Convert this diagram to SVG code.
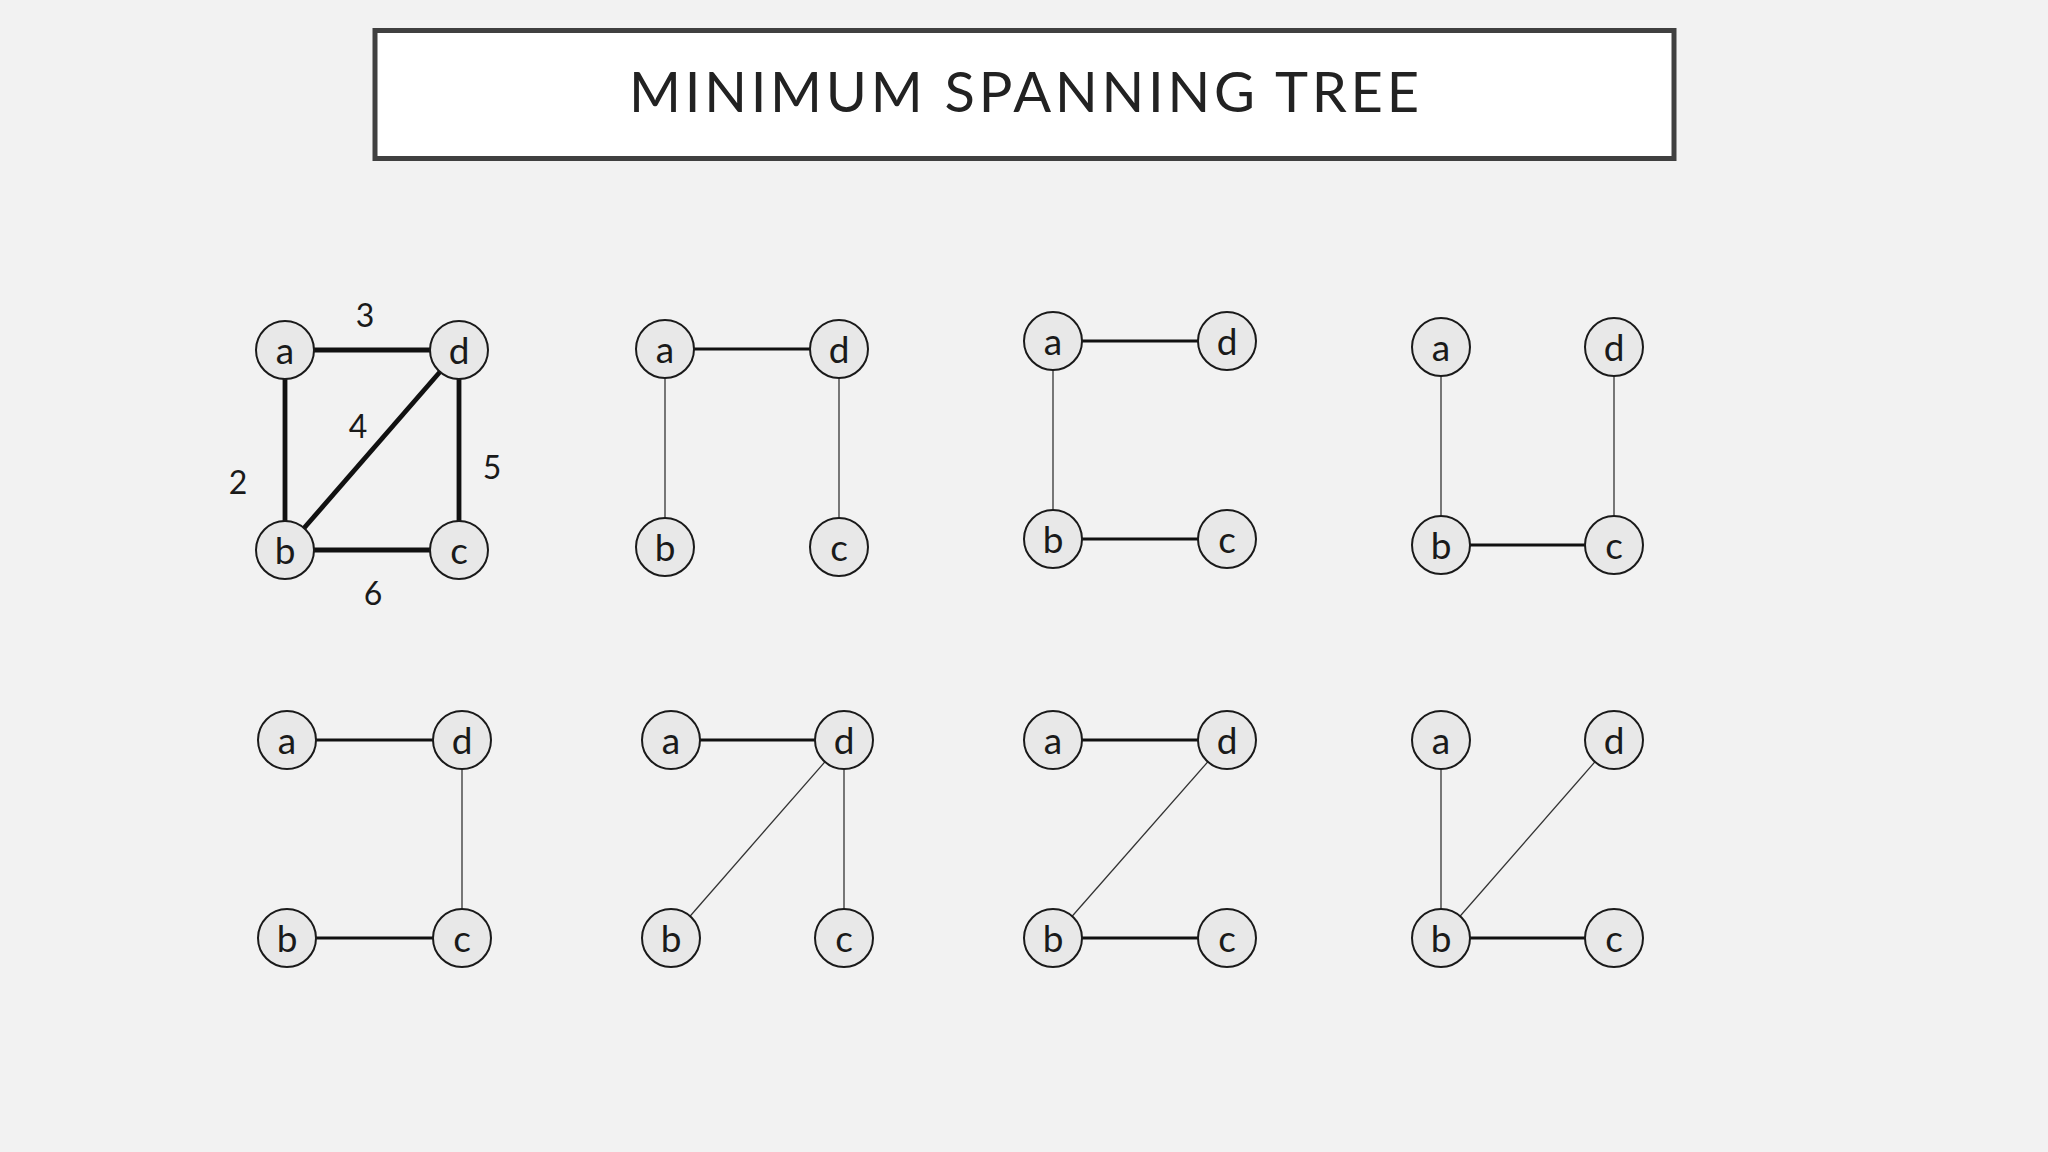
<svg xmlns="http://www.w3.org/2000/svg" width="2048" height="1152" viewBox="0 0 2048 1152">
<style>
.node circle{fill:#e8e8e8;stroke:#1a1a1a;stroke-width:2}
.node text{font-family:Lato,"Open Sans","Liberation Sans",sans-serif;font-size:37px;fill:#1a1a1a;text-anchor:middle}
.thick{stroke:#111;stroke-width:3.2}
.thin{stroke:#333;stroke-width:1.3}
.heavy{stroke:#111;stroke-width:4.8}
.w{font-family:Lato,"Open Sans","Liberation Sans",sans-serif;font-size:32px;fill:#1a1a1a;text-anchor:middle}
</style>
<rect x="0" y="0" width="2048" height="1152" fill="#f2f2f2"/>
<g id="title">
<rect x="375" y="30.5" width="1299" height="128" fill="#ffffff" stroke="#404040" stroke-width="5"/>
<text x="1024" y="112" font-family="Lato,'Open Sans','Liberation Sans',sans-serif" font-size="56" fill="#222" text-anchor="middle" textLength="790" lengthAdjust="spacing">MINIMUM SPANNING TREE</text>
</g>
<g id="connectors">
<line class="heavy" x1="285" y1="350" x2="459" y2="350"/>
<line class="heavy" x1="285" y1="350" x2="285" y2="550"/>
<line class="heavy" x1="459" y1="350" x2="285" y2="550"/>
<line class="heavy" x1="459" y1="350" x2="459" y2="550"/>
<line class="heavy" x1="285" y1="550" x2="459" y2="550"/>
<line class="thick" x1="665" y1="349" x2="839" y2="349"/>
<line class="thin" x1="665" y1="349" x2="665" y2="547"/>
<line class="thin" x1="839" y1="349" x2="839" y2="547"/>
<line class="thick" x1="1053" y1="341" x2="1227" y2="341"/>
<line class="thin" x1="1053" y1="341" x2="1053" y2="539"/>
<line class="thick" x1="1053" y1="539" x2="1227" y2="539"/>
<line class="thin" x1="1441" y1="347" x2="1441" y2="545"/>
<line class="thin" x1="1614" y1="347" x2="1614" y2="545"/>
<line class="thick" x1="1441" y1="545" x2="1614" y2="545"/>
<line class="thick" x1="287" y1="740" x2="462" y2="740"/>
<line class="thin" x1="462" y1="740" x2="462" y2="938"/>
<line class="thick" x1="287" y1="938" x2="462" y2="938"/>
<line class="thick" x1="671" y1="740" x2="844" y2="740"/>
<line class="thin" x1="844" y1="740" x2="671" y2="938"/>
<line class="thin" x1="844" y1="740" x2="844" y2="938"/>
<line class="thick" x1="1053" y1="740" x2="1227" y2="740"/>
<line class="thin" x1="1227" y1="740" x2="1053" y2="938"/>
<line class="thick" x1="1053" y1="938" x2="1227" y2="938"/>
<line class="thin" x1="1441" y1="740" x2="1441" y2="938"/>
<line class="thin" x1="1614" y1="740" x2="1441" y2="938"/>
<line class="thick" x1="1441" y1="938" x2="1614" y2="938"/>
</g>
<g id="weights">
<text class="w" x="365" y="327">3</text>
<text class="w" x="358" y="438">4</text>
<text class="w" x="238" y="494">2</text>
<text class="w" x="492" y="479">5</text>
<text class="w" x="373" y="605">6</text>
</g>
<g id="g1a" class="node" transform="translate(285,350)"><circle r="29"/><text y="14">a</text></g>
<g id="g1d" class="node" transform="translate(459,350)"><circle r="29"/><text y="14">d</text></g>
<g id="g1b" class="node" transform="translate(285,550)"><circle r="29"/><text y="14">b</text></g>
<g id="g1c" class="node" transform="translate(459,550)"><circle r="29"/><text y="14">c</text></g>

<g id="g2a" class="node" transform="translate(665,349)"><circle r="29"/><text y="14">a</text></g>
<g id="g2d" class="node" transform="translate(839,349)"><circle r="29"/><text y="14">d</text></g>
<g id="g2b" class="node" transform="translate(665,547)"><circle r="29"/><text y="14">b</text></g>
<g id="g2c" class="node" transform="translate(839,547)"><circle r="29"/><text y="14">c</text></g>

<g id="g3a" class="node" transform="translate(1053,341)"><circle r="29"/><text y="14">a</text></g>
<g id="g3d" class="node" transform="translate(1227,341)"><circle r="29"/><text y="14">d</text></g>
<g id="g3b" class="node" transform="translate(1053,539)"><circle r="29"/><text y="14">b</text></g>
<g id="g3c" class="node" transform="translate(1227,539)"><circle r="29"/><text y="14">c</text></g>

<g id="g4a" class="node" transform="translate(1441,347)"><circle r="29"/><text y="14">a</text></g>
<g id="g4d" class="node" transform="translate(1614,347)"><circle r="29"/><text y="14">d</text></g>
<g id="g4b" class="node" transform="translate(1441,545)"><circle r="29"/><text y="14">b</text></g>
<g id="g4c" class="node" transform="translate(1614,545)"><circle r="29"/><text y="14">c</text></g>

<g id="g5a" class="node" transform="translate(287,740)"><circle r="29"/><text y="14">a</text></g>
<g id="g5d" class="node" transform="translate(462,740)"><circle r="29"/><text y="14">d</text></g>
<g id="g5b" class="node" transform="translate(287,938)"><circle r="29"/><text y="14">b</text></g>
<g id="g5c" class="node" transform="translate(462,938)"><circle r="29"/><text y="14">c</text></g>

<g id="g6a" class="node" transform="translate(671,740)"><circle r="29"/><text y="14">a</text></g>
<g id="g6d" class="node" transform="translate(844,740)"><circle r="29"/><text y="14">d</text></g>
<g id="g6b" class="node" transform="translate(671,938)"><circle r="29"/><text y="14">b</text></g>
<g id="g6c" class="node" transform="translate(844,938)"><circle r="29"/><text y="14">c</text></g>

<g id="g7a" class="node" transform="translate(1053,740)"><circle r="29"/><text y="14">a</text></g>
<g id="g7d" class="node" transform="translate(1227,740)"><circle r="29"/><text y="14">d</text></g>
<g id="g7b" class="node" transform="translate(1053,938)"><circle r="29"/><text y="14">b</text></g>
<g id="g7c" class="node" transform="translate(1227,938)"><circle r="29"/><text y="14">c</text></g>

<g id="g8a" class="node" transform="translate(1441,740)"><circle r="29"/><text y="14">a</text></g>
<g id="g8d" class="node" transform="translate(1614,740)"><circle r="29"/><text y="14">d</text></g>
<g id="g8b" class="node" transform="translate(1441,938)"><circle r="29"/><text y="14">b</text></g>
<g id="g8c" class="node" transform="translate(1614,938)"><circle r="29"/><text y="14">c</text></g>
</svg>
